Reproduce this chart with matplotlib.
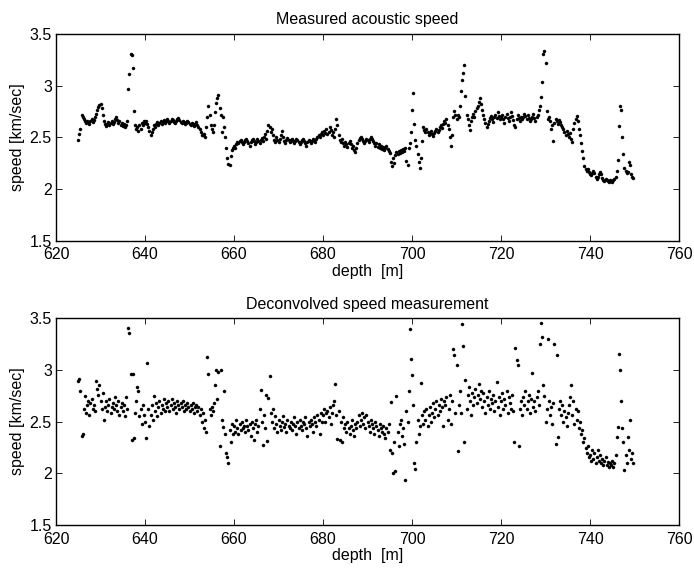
import numpy as np
import matplotlib
matplotlib.use("Agg")
import matplotlib.pyplot as plt

plt.rcParams['font.family'] = ['Liberation Sans', 'DejaVu Sans']

# depth grid [m], 0.25 m sampling, 625.00 ... 749.75
depth = 625.0 + 0.25 * np.arange(500)

# Measured acoustic speed [km/sec], 20 samples per 5 m block
measured = [
    2.47, 2.53, 2.58, 2.72, 2.70, 2.68, 2.66, 2.64, 2.66, 2.65, 2.63, 2.66, 2.68, 2.65, 2.67, 2.70, 2.73, 2.76, 2.79, 2.81,
    2.82, 2.78, 2.72, 2.66, 2.63, 2.61, 2.63, 2.65, 2.62, 2.64, 2.66, 2.63, 2.65, 2.68, 2.70, 2.67, 2.64, 2.66, 2.62, 2.64,
    2.61, 2.63, 2.60, 2.62, 2.66, 2.97, 3.11, 3.31, 3.30, 3.17, 2.75, 2.62, 2.58, 2.60, 2.56, 2.62, 2.58, 2.64, 2.62, 2.66,
    2.64, 2.66, 2.63, 2.60, 2.56, 2.52, 2.55, 2.58, 2.62, 2.60, 2.63, 2.65, 2.62, 2.64, 2.66, 2.63, 2.65, 2.67, 2.64, 2.66,
    2.68, 2.66, 2.64, 2.66, 2.68, 2.67, 2.65, 2.64, 2.66, 2.68, 2.69, 2.67, 2.65, 2.64, 2.66, 2.65, 2.63, 2.64, 2.66, 2.65,
    2.63, 2.62, 2.64, 2.63, 2.61, 2.63, 2.65, 2.62, 2.60, 2.58, 2.55, 2.52, 2.52, 2.53, 2.50, 2.60, 2.70, 2.80, 2.72, 2.62,
    2.58, 2.55, 2.62, 2.74, 2.83, 2.88, 2.91, 2.78, 2.72, 2.55, 2.70, 2.60, 2.50, 2.40, 2.30, 2.24, 2.23, 2.32, 2.38, 2.40,
    2.42, 2.40, 2.43, 2.45, 2.44, 2.46, 2.47, 2.45, 2.43, 2.45, 2.47, 2.48, 2.46, 2.44, 2.42, 2.45, 2.47, 2.48, 2.46, 2.43,
    2.45, 2.48, 2.46, 2.44, 2.47, 2.49, 2.46, 2.50, 2.53, 2.48, 2.56, 2.62, 2.60, 2.55, 2.58, 2.52, 2.47, 2.45, 2.50, 2.47,
    2.45, 2.48, 2.52, 2.56, 2.50, 2.46, 2.44, 2.47, 2.49, 2.47, 2.45, 2.47, 2.48, 2.46, 2.44, 2.46, 2.48, 2.47, 2.45, 2.43,
    2.45, 2.47, 2.48, 2.46, 2.44, 2.42, 2.45, 2.47, 2.46, 2.44, 2.46, 2.48, 2.47, 2.45, 2.48, 2.50, 2.52, 2.50, 2.53, 2.55,
    2.52, 2.56, 2.54, 2.58, 2.53, 2.55, 2.60, 2.57, 2.52, 2.55, 2.50, 2.58, 2.68, 2.62, 2.52, 2.47, 2.45, 2.48, 2.44, 2.42,
    2.45, 2.43, 2.41, 2.44, 2.46, 2.43, 2.40, 2.42, 2.38, 2.36, 2.40, 2.44, 2.47, 2.49, 2.50, 2.48, 2.46, 2.44, 2.46, 2.48,
    2.47, 2.45, 2.48, 2.50, 2.48, 2.46, 2.44, 2.42, 2.44, 2.41, 2.43, 2.40, 2.42, 2.39, 2.41, 2.38, 2.40, 2.42, 2.39, 2.37,
    2.35, 2.26, 2.22, 2.30, 2.25, 2.33, 2.36, 2.34, 2.37, 2.35, 2.38, 2.36, 2.39, 2.37, 2.40, 2.27, 2.23, 2.40, 2.44, 2.55,
    2.76, 2.93, 2.63, 2.47, 2.42, 2.34, 2.26, 2.20, 2.30, 2.46, 2.60, 2.57, 2.55, 2.58, 2.55, 2.52, 2.54, 2.56, 2.53, 2.51,
    2.54, 2.56, 2.58, 2.55, 2.57, 2.60, 2.62, 2.59, 2.63, 2.66, 2.64, 2.68, 2.62, 2.58, 2.50, 2.42, 2.52, 2.70, 2.75, 2.72,
    2.68, 2.72, 2.70, 2.80, 2.95, 3.05, 3.12, 3.20, 2.90, 2.72, 2.68, 2.62, 2.57, 2.66, 2.70, 2.73, 2.70, 2.75, 2.78, 2.80,
    2.84, 2.88, 2.82, 2.76, 2.72, 2.68, 2.64, 2.60, 2.63, 2.66, 2.69, 2.71, 2.68, 2.65, 2.70, 2.72, 2.69, 2.74, 2.71, 2.68,
    2.70, 2.72, 2.68, 2.64, 2.70, 2.73, 2.69, 2.66, 2.70, 2.74, 2.71, 2.67, 2.62, 2.60, 2.68, 2.72, 2.69, 2.66, 2.70, 2.68,
    2.70, 2.73, 2.71, 2.68, 2.72, 2.69, 2.66, 2.68, 2.70, 2.73, 2.69, 2.66, 2.70, 2.72, 2.76, 2.80, 2.89, 3.04, 3.31, 3.34,
    3.22, 2.75, 2.68, 2.70, 2.66, 2.58, 2.62, 2.46, 2.64, 2.68, 2.66, 2.63, 2.67, 2.65, 2.62, 2.60, 2.58, 2.55, 2.52, 2.56,
    2.53, 2.50, 2.54, 2.48, 2.45, 2.58, 2.64, 2.68, 2.71, 2.66, 2.58, 2.52, 2.44, 2.37, 2.30, 2.22, 2.19, 2.17, 2.19, 2.16,
    2.14, 2.13, 2.15, 2.17, 2.15, 2.12, 2.10, 2.12, 2.14, 2.16, 2.14, 2.11, 2.09, 2.08, 2.10, 2.09, 2.08, 2.07, 2.09, 2.08,
    2.07, 2.09, 2.10, 2.12, 2.17, 2.28, 2.61, 2.80, 2.76, 2.50, 2.34, 2.20, 2.17, 2.15, 2.16, 2.26, 2.23, 2.14, 2.12, 2.11,
]

# Deconvolved speed measurement [km/sec]
deconvolved = [
    2.89, 2.91, 2.80, 2.36, 2.38, 2.62, 2.75, 2.58, 2.66, 2.70, 2.56, 2.68, 2.72, 2.62, 2.66, 2.60, 2.89, 2.82, 2.76, 2.85,
    2.70, 2.62, 2.78, 2.52, 2.64, 2.70, 2.60, 2.66, 2.72, 2.58, 2.64, 2.68, 2.62, 2.74, 2.66, 2.60, 2.70, 2.56, 2.64, 2.68,
    2.60, 2.66, 2.55, 2.74, 2.62, 3.41, 3.36, 2.96, 2.32, 2.96, 2.34, 2.58, 2.70, 2.84, 2.80, 2.55, 2.62, 2.48, 2.66, 2.56,
    2.50, 2.34, 3.07, 2.62, 2.46, 2.56, 2.66, 2.52, 2.75, 2.60, 2.68, 2.55, 2.64, 2.70, 2.58, 2.66, 2.62, 2.72, 2.60, 2.68,
    2.64, 2.70, 2.60, 2.66, 2.72, 2.62, 2.68, 2.64, 2.58, 2.70, 2.66, 2.62, 2.68, 2.64, 2.70, 2.60, 2.66, 2.62, 2.68, 2.64,
    2.60, 2.66, 2.62, 2.68, 2.58, 2.64, 2.66, 2.60, 2.64, 2.56, 2.62, 2.50, 2.58, 2.44, 2.52, 2.40, 3.13, 2.96, 2.62, 2.56,
    2.64, 2.60, 2.68, 2.85, 3.00, 2.72, 2.98, 2.26, 3.00, 2.52, 2.45, 2.80, 2.38, 2.20, 2.16, 2.10, 2.42, 2.30, 2.48, 2.38,
    2.46, 2.40, 2.52, 2.44, 2.38, 2.48, 2.42, 2.50, 2.44, 2.46, 2.40, 2.52, 2.46, 2.42, 2.48, 2.36, 2.50, 2.44, 2.32, 2.48,
    2.52, 2.40, 2.46, 2.62, 2.81, 2.50, 2.27, 2.56, 2.44, 2.76, 2.31, 2.73, 2.94, 2.58, 2.50, 2.62, 2.44, 2.55, 2.48, 2.40,
    2.52, 2.46, 2.42, 2.50, 2.55, 2.45, 2.48, 2.40, 2.52, 2.46, 2.44, 2.50, 2.42, 2.48, 2.54, 2.46, 2.38, 2.50, 2.44, 2.52,
    2.46, 2.42, 2.50, 2.48, 2.54, 2.44, 2.36, 2.50, 2.46, 2.52, 2.48, 2.40, 2.54, 2.50, 2.46, 2.56, 2.52, 2.38, 2.58, 2.50,
    2.56, 2.62, 2.50, 2.58, 2.60, 2.54, 2.64, 2.48, 2.58, 2.66, 2.70, 2.86, 2.56, 2.33, 2.60, 2.32, 2.50, 2.30, 2.54, 2.44,
    2.48, 2.40, 2.50, 2.44, 2.38, 2.46, 2.52, 2.42, 2.36, 2.48, 2.44, 2.50, 2.56, 2.46, 2.52, 2.58, 2.48, 2.54, 2.44, 2.56,
    2.50, 2.46, 2.40, 2.52, 2.48, 2.44, 2.38, 2.50, 2.46, 2.42, 2.36, 2.48, 2.44, 2.40, 2.46, 2.38, 2.34, 2.44, 2.40, 2.48,
    2.22, 2.69, 2.20, 2.00, 2.30, 2.02, 2.75, 2.40, 2.26, 2.48, 2.52, 2.36, 2.44, 2.28, 1.93, 2.60, 2.50, 2.80, 3.40, 3.11,
    2.95, 2.66, 2.10, 2.04, 2.30, 2.52, 2.38, 2.46, 2.87, 2.56, 2.48, 2.60, 2.52, 2.62, 2.46, 2.56, 2.64, 2.50, 2.58, 2.68,
    2.54, 2.62, 2.70, 2.56, 2.66, 2.60, 2.72, 2.64, 2.46, 2.70, 2.66, 2.74, 2.52, 2.62, 2.76, 2.48, 2.70, 3.20, 3.15, 2.58,
    3.05, 2.21, 2.66, 2.80, 2.58, 3.45, 3.23, 2.30, 2.90, 2.62, 2.76, 2.84, 2.70, 2.56, 2.78, 2.66, 2.74, 2.82, 2.68, 2.76,
    2.86, 2.72, 2.80, 2.64, 2.78, 2.70, 2.58, 2.74, 2.66, 2.80, 2.62, 2.72, 2.68, 2.76, 2.60, 2.70, 2.88, 2.64, 2.74, 2.56,
    2.70, 2.78, 2.62, 2.72, 2.66, 2.80, 2.58, 2.74, 2.68, 2.62, 2.76, 2.60, 2.30, 3.21, 3.10, 3.05, 2.26, 2.62, 2.70, 2.56,
    2.74, 2.66, 2.80, 2.62, 2.70, 2.76, 2.58, 2.72, 2.97, 2.64, 2.70, 2.60, 2.74, 2.80, 2.66, 3.25, 3.46, 3.32, 2.85, 2.75,
    2.50, 2.62, 3.30, 2.70, 2.56, 2.64, 2.48, 2.68, 3.25, 2.28, 3.15, 2.35, 2.62, 2.70, 2.56, 2.66, 2.50, 2.60, 2.54, 2.46,
    2.58, 2.66, 2.74, 2.85, 2.56, 2.70, 2.48, 2.62, 2.52, 2.60, 2.44, 2.50, 2.38, 2.42, 2.30, 2.34, 2.24, 2.20, 2.26, 2.16,
    2.18, 2.12, 2.22, 2.14, 2.20, 2.10, 2.16, 2.22, 2.12, 2.18, 2.10, 2.14, 2.08, 2.12, 2.16, 2.08, 2.11, 2.06, 2.10, 2.08,
    2.12, 2.06, 2.10, 2.18, 2.35, 2.45, 3.16, 3.00, 2.70, 2.44, 2.30, 2.03, 2.18, 2.10, 2.35, 2.22, 2.52, 2.14, 2.20, 2.10,
]

titles = ["Measured acoustic speed", "Deconvolved speed measurement"]
xticks = [620, 640, 660, 680, 700, 720, 740, 760]
yticks = [1.5, 2, 2.5, 3, 3.5]
yticklabels = ["1.5", "2", "2.5", "3", "3.5"]

fig = plt.figure(figsize=(6.94, 5.69), dpi=100)
positions = [[0.0807, 0.5773, 0.8977, 0.3629], [0.0807, 0.0779, 0.8977, 0.3624]]
fs = 11.5

for pos, series, title in zip(positions, [measured, deconvolved], titles):
    ax = fig.add_axes(pos)
    ax.plot(depth, series, linestyle='none', marker='o', ms=2.2,
            mfc='black', mec='black', mew=0.3)
    ax.set_xlim(620, 760)
    ax.set_ylim(1.5, 3.5)
    ax.set_xticks(xticks)
    ax.set_yticks(yticks)
    ax.set_yticklabels(yticklabels)
    ax.tick_params(direction='in', top=True, right=True, length=4,
                   width=0.6, labelsize=fs)
    ax.tick_params(axis='x', pad=5)
    ax.tick_params(axis='y', pad=3)
    for sp in ax.spines.values():
        sp.set_linewidth(1.0)
    ax.set_title(title, fontsize=fs, pad=7)
    ax.set_xlabel("depth  [m]", fontsize=fs, labelpad=1)
    ax.set_ylabel("speed [km/sec]", fontsize=fs, labelpad=3)

fig.savefig("out.png", dpi=100)
